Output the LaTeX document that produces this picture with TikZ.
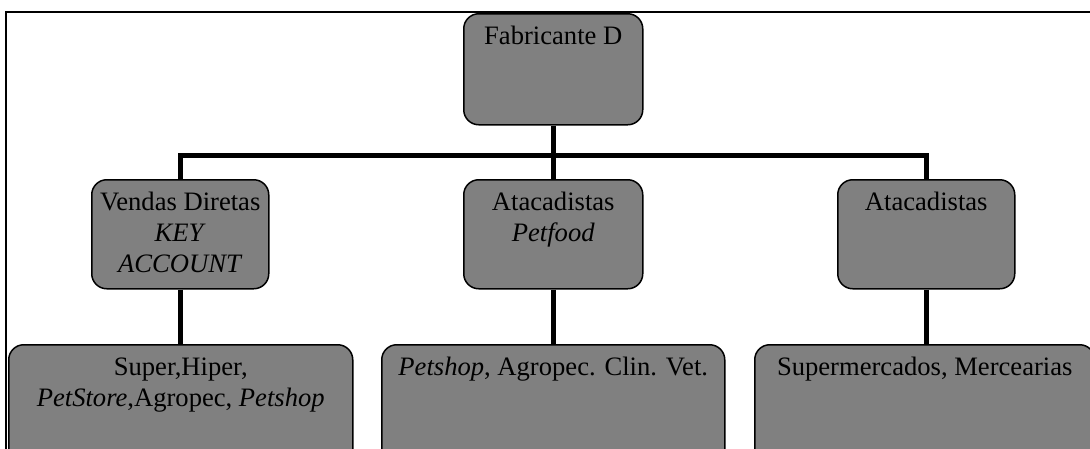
\documentclass[tikz,border=0pt]{standalone}
\usepackage{fontspec}
\setmainfont{Liberation Serif}
\newcommand\bxt[3]{\parbox[c][#2][t]{#1}{\fontsize{26.6}{31}\selectfont\centering\rule{0pt}{31pt}#3}}
\begin{document}
\begin{tikzpicture}[x=1pt,y=1pt,
  box/.style={draw=black, line width=1.5pt, fill={rgb,255:red,128;green,128;blue,128}, rounded corners=15pt, inner sep=0pt, anchor=north west},
  conn/.style={line width=5pt, line join=miter}]
\useasboundingbox (0,0) rectangle (1090,-448);
\clip (0,0) rectangle (1090,-448);
\fill[white] (0,0) rectangle (1090,-448);
\draw[line width=1.5pt] (6,-12) rectangle (1110,-470);
\coordinate (barL) at (180,-155);
\coordinate (barR) at (926,-155);
\node[box] (fab) at (463,-13) {\bxt{179pt}{111pt}{Fabricante D}};
\node[box] (vd) at (91,-179) {\bxt{177pt}{109pt}{Vendas Diretas\\\textit{KEY}\\\textit{ACCOUNT}}};
\node[box] (ap) at (463,-179) {\bxt{179pt}{109pt}{Atacadistas\\\textit{Petfood}}};
\node[box] (ar) at (837,-179) {\bxt{177pt}{109pt}{Atacadistas}};
\node[box] (b1) at (8,-344) {\bxt{344pt}{130pt}{Super,Hiper,\\\textit{PetStore},Agropec, \textit{Petshop}}};
\node[box] (b2) at (381,-344) {\bxt{343pt}{130pt}{\textit{Petshop},\ Agropec. Clin. Vet.}};
\node[box] (b3) at (754,-344) {\bxt{340pt}{130pt}{Supermercados, Mercearias}};
\draw[conn] (fab.south) -- (fab.south |- barL);
\draw[conn] (vd.north -| barL) -- (barL) -- (barR) -- (ar.north -| barR);
\draw[conn] (ap.north) -- (ap.north |- barL);
\draw[conn] (vd.south -| barL) -- (b1.north -| barL);
\draw[conn] (ap.south) -- (ap.south |- b2.north);
\draw[conn] (ar.south -| barR) -- (b3.north -| barR);
\end{tikzpicture}
\end{document}
